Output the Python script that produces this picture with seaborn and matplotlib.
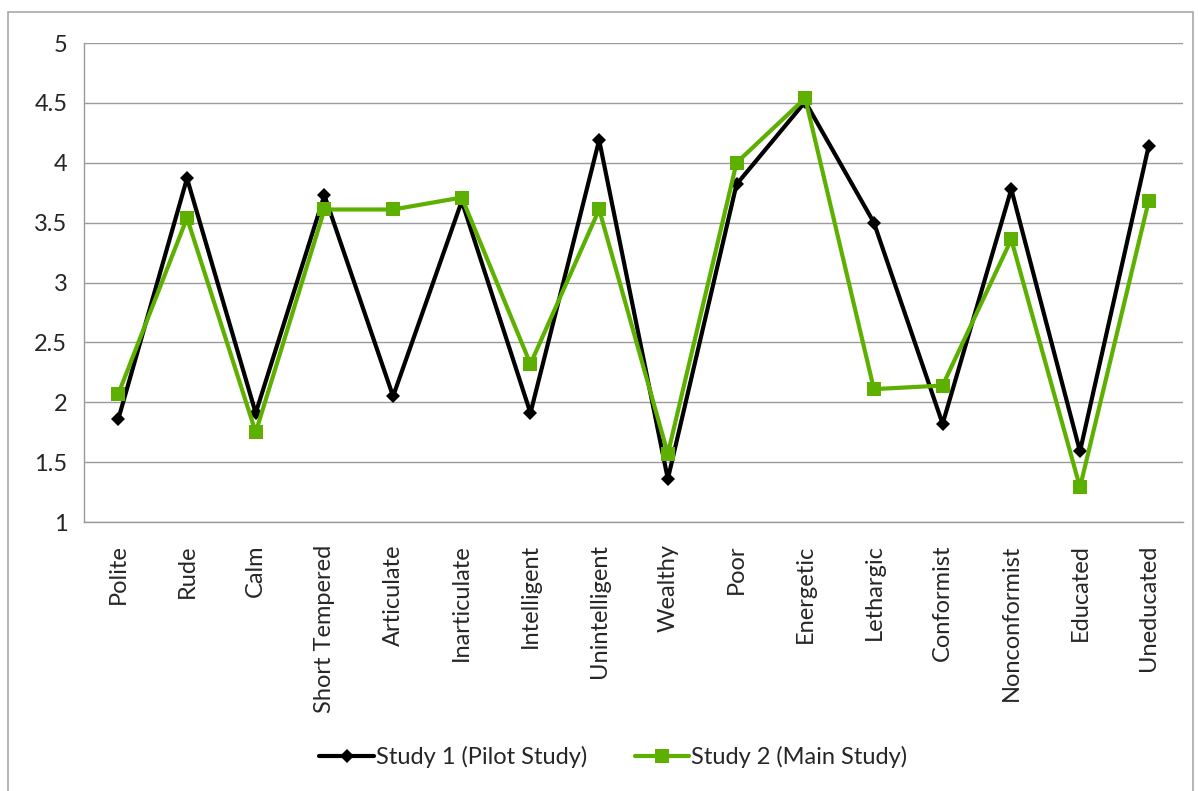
import matplotlib
matplotlib.use("Agg")
import matplotlib.pyplot as plt
from matplotlib.lines import Line2D
from matplotlib.patches import Rectangle
import numpy as np
import pandas as pd
import seaborn as sns

traits = ["Polite", "Rude", "Calm", "Short Tempered", "Articulate", "Inarticulate",
          "Intelligent", "Unintelligent", "Wealthy", "Poor", "Energetic", "Lethargic",
          "Conformist", "Nonconformist", "Educated", "Uneducated"]
study1 = [1.86, 3.87, 1.91, 3.73, 2.05, 3.68, 1.91, 4.19, 1.36, 3.82,
          4.51, 3.50, 1.82, 3.78, 1.59, 4.14]
study2 = [2.07, 3.54, 1.75, 3.61, 3.61, 3.71, 2.32, 3.61, 1.57, 4.00,
          4.54, 2.11, 2.14, 3.36, 1.29, 3.68]
series_names = ["Study 1 (Pilot Study)", "Study 2 (Main Study)"]
y_ticks = [1, 1.5, 2, 2.5, 3, 3.5, 4, 4.5, 5]

df = pd.DataFrame({
    "trait": traits * 2,
    "score": study1 + study2,
    "study": [series_names[0]] * len(traits) + [series_names[1]] * len(traits),
})

sns.set_theme(style="white")
plt.rcParams["font.family"] = ["Lato", "DejaVu Sans"]

black = "#000000"
green = "#5DB000"
grid_c = "#9A9A9A"
fs = 17

fig = plt.figure(figsize=(11.98, 7.91), dpi=100)
ax = fig.add_axes([0.0701, 0.340, 0.9174, 0.6056])

sns.lineplot(data=df, x="trait", y="score", hue="study", style="study",
             palette={series_names[0]: black, series_names[1]: green},
             markers={series_names[0]: "D", series_names[1]: "s"},
             dashes=False, sort=False, linewidth=3, markersize=9,
             markeredgewidth=0, legend=False, ax=ax)
# Diamond a touch smaller than square
for ln in ax.get_lines():
    if ln.get_marker() == "D":
        ln.set_markersize(7.5)
    else:
        ln.set_markersize(10)

ax.set_xlim(-0.5, len(traits) - 0.5)
ax.set_ylim(1, 5)
ax.set_yticks(y_ticks)
ax.set_yticklabels([f"{v:g}" for v in y_ticks], fontsize=fs)
ax.set_xticks(range(len(traits)))
ax.set_xticklabels(traits, rotation=90, fontsize=fs)
ax.set_xticks(np.arange(-0.5, len(traits)), minor=True)
ax.tick_params(axis="x", which="major", length=0, pad=16)
ax.tick_params(axis="x", which="minor", length=8, width=1, color=grid_c, direction="out")
ax.tick_params(axis="y", which="major", length=8, width=1, color=grid_c, direction="out", pad=4)
ax.set_xlabel("")
ax.set_ylabel("")

ax.yaxis.grid(True, color=grid_c, linewidth=1)
ax.set_axisbelow(True)
for side in ["top", "right"]:
    ax.spines[side].set_visible(False)
for side in ["left", "bottom"]:
    ax.spines[side].set_color(grid_c)
    ax.spines[side].set_linewidth(1)

handles = [
    Line2D([0], [0], color=black, lw=3, marker="D", markersize=7.5, markeredgewidth=0),
    Line2D([0], [0], color=green, lw=3, marker="s", markersize=10, markeredgewidth=0),
]
fig.legend(handles, series_names, loc="center", bbox_to_anchor=(0.512, 0.043),
           ncol=2, frameon=False, fontsize=fs, handlelength=2.3, handletextpad=0.1,
           columnspacing=2.0)

fig.patches.append(Rectangle((0.0067, -0.01), 0.9893, 0.995, transform=fig.transFigure,
                             fill=False, edgecolor="#A8A8A8", linewidth=1.2))

fig.savefig("out.png", dpi=100, facecolor="white")
